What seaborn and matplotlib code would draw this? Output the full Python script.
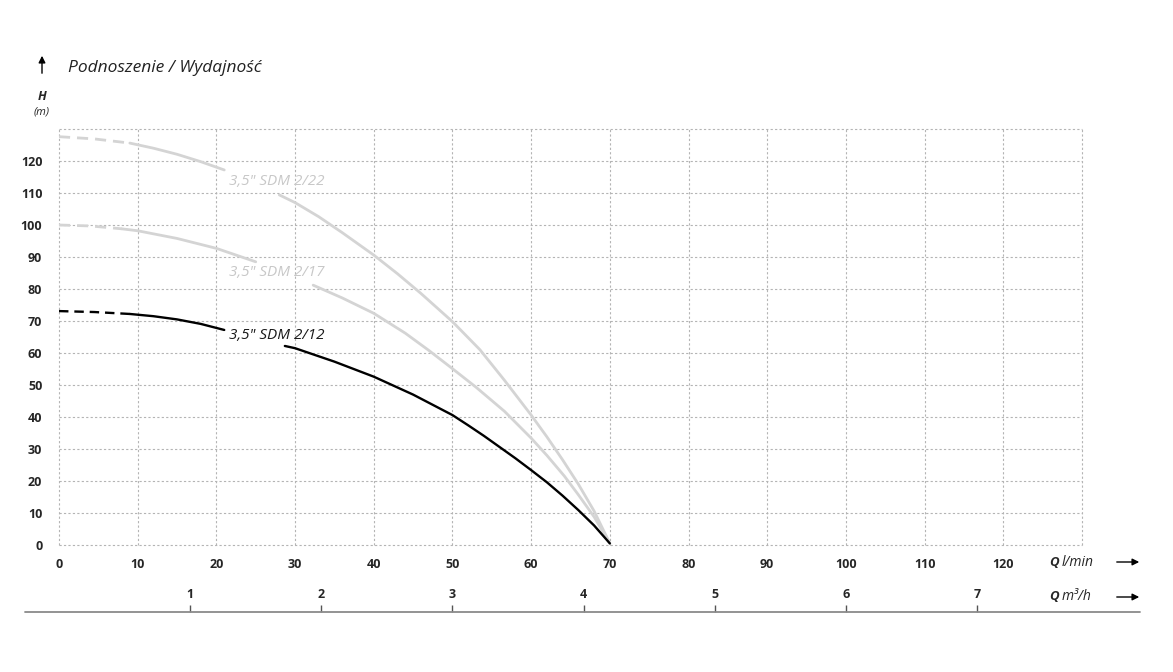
import numpy as np
import pandas as pd
import matplotlib
matplotlib.use('Agg')
import matplotlib.pyplot as plt
import seaborn as sns
from matplotlib.lines import Line2D

# flow Q (l/min) vs head H (m)
# each curve: dashed start, solid part, gap for the label, solid part
sdm22_dash_q = [0, 4.5, 9]
sdm22_dash_h = [127.6, 126.9, 125.6]
sdm22_a_q = [9, 12, 15, 18, 21]
sdm22_a_h = [125.6, 124.0, 122.1, 119.8, 117.2]
sdm22_b_q = [28, 30, 33, 36, 40, 43, 46, 50, 53.5, 56.6, 60, 62, 64, 66, 68, 70]
sdm22_b_h = [109.4, 107.0, 102.6, 97.6, 90.6, 84.8, 78.6, 69.8, 61.0, 51.5, 40.6, 33.8, 26.6, 19.0, 10.6, 0.5]

sdm17_dash_q = [0, 4, 8]
sdm17_dash_h = [100.0, 99.7, 98.8]
sdm17_a_q = [8, 10, 15, 20, 25]
sdm17_a_h = [98.8, 98.2, 95.8, 92.7, 88.5]
sdm17_b_q = [32.3, 36, 40, 44, 47, 50, 53, 56.6, 60, 62, 64.2, 66, 68, 70]
sdm17_b_h = [81.2, 77.2, 72.4, 66.2, 60.8, 55.1, 49.3, 41.8, 33.4, 28.0, 21.6, 15.7, 8.8, 0.5]

sdm12_dash_q = [0, 4.5, 9]
sdm12_dash_h = [73.1, 72.8, 72.2]
sdm12_a_q = [9, 12, 15, 18, 21]
sdm12_a_h = [72.2, 71.5, 70.5, 69.1, 67.2]
sdm12_b_q = [28.7, 30, 35, 40, 45, 50, 52, 54, 56, 58, 60, 62, 64, 66, 68, 70]
sdm12_b_h = [62.2, 61.5, 57.3, 52.6, 47.0, 40.6, 37.4, 34.1, 30.6, 27.1, 23.4, 19.6, 15.4, 10.9, 6.1, 0.5]

labels = ['3,5" SDM 2/22', '3,5" SDM 2/17', '3,5" SDM 2/12']
label_q = [21.6, 21.6, 21.6]
label_h = [113.7, 85.3, 65.6]

q_ticks = list(range(0, 131, 10))
h_ticks = list(range(0, 131, 10))
m3h_ticks = [1, 2, 3, 4, 5, 6, 7]
LMIN_PER_M3H = 1000 / 60

W, H = 1173, 672
sns.set_style('white')
plt.rcParams['font.family'] = ['Open Sans', 'DejaVu Sans']

fig = plt.figure(figsize=(W / 100, H / 100), dpi=100)
ax = fig.add_axes([59 / W, 1 - 545 / H, (1082 - 59) / W, (545 - 129) / H])

gray = '#d4d4d4'
curves = [
    (sdm22_dash_q, sdm22_dash_h, sdm22_a_q, sdm22_a_h, sdm22_b_q, sdm22_b_h, gray, 2.0),
    (sdm17_dash_q, sdm17_dash_h, sdm17_a_q, sdm17_a_h, sdm17_b_q, sdm17_b_h, gray, 2.0),
    (sdm12_dash_q, sdm12_dash_h, sdm12_a_q, sdm12_a_h, sdm12_b_q, sdm12_b_h, 'black', 1.7),
]
for dq, dh, aq, ah, bq, bh, col, lw in curves:
    sns.lineplot(x=dq, y=dh, ax=ax, color=col, lw=lw, linestyle=(0, (4, 2.5)), sort=False)
    sns.lineplot(x=aq, y=ah, ax=ax, color=col, lw=lw, sort=False)
    sns.lineplot(x=bq, y=bh, ax=ax, color=col, lw=lw, sort=False)

label_colors = ['#c8c8c8', '#c8c8c8', '#1a1a1a']
for txt, lq, lh, c in zip(labels, label_q, label_h, label_colors):
    ax.text(lq, lh, txt, color=c, fontsize=11, style='italic', va='center', ha='left')

ax.set_xlim(0, 130)
ax.set_ylim(0, 130)
ax.set_xticks(q_ticks)
ax.set_yticks(h_ticks)
ax.set_xticklabels([str(v) if v < 130 else '' for v in q_ticks])
ax.set_yticklabels([str(v) if v < 130 else '' for v in h_ticks])
ax.grid(True, color='#b4b4b4', lw=0.8, linestyle=(0, (2, 2)))
ax.set_axisbelow(True)
for gl in ax.get_xgridlines() + ax.get_ygridlines():
    gl.set_clip_on(False)
for s in ax.spines.values():
    s.set_visible(False)
ax.tick_params(which='both', length=0)
ax.tick_params(axis='y', pad=12, labelsize=9)
ax.tick_params(axis='x', pad=9, labelsize=9)
for t in ax.get_xticklabels() + ax.get_yticklabels():
    t.set_fontweight('bold')
ax.set_xlabel('')
ax.set_ylabel('')

# second flow scale in m3/h
ax2 = fig.add_axes([59 / W, 1 - 612 / H, (1082 - 59) / W, 7 / H])
ax2.set_xlim(0, 130 / LMIN_PER_M3H)
ax2.set_ylim(0, 1)
ax2.set_facecolor('none')
for s in ax2.spines.values():
    s.set_visible(False)
ax2.set_yticks([])
ax2.set_xticks(m3h_ticks)
ax2.tick_params(axis='x', bottom=True, top=False, labelbottom=False, labeltop=True,
                direction='in', length=5, width=1, color='#555555', pad=3, labelsize=9)
for t in ax2.get_xticklabels():
    t.set_fontweight('bold')
fig.add_artist(Line2D([25 / W, 1140 / W], [1 - 612 / H] * 2, color='#8a8a8a', lw=1.3))

# titles / axis names
fig.text(68 / W, 1 - 68 / H, 'Podnoszenie / Wydajność', fontsize=12.5, style='italic',
         va='center', ha='left', color='#222222')
fig.text(42 / W, 1 - 97 / H, 'H', fontsize=9, style='italic', fontweight='bold',
         va='center', ha='center')
fig.text(42 / W, 1 - 112 / H, '(m)', fontsize=8, style='italic', va='center', ha='center')

fig.text(1049 / W, 1 - 562 / H, 'Q', fontsize=9.5, style='italic', fontweight='bold', va='center')
fig.text(1062 / W, 1 - 562 / H, 'l/min', fontsize=10, style='italic', va='center')
fig.text(1049 / W, 1 - 597 / H, 'Q', fontsize=9.5, style='italic', fontweight='bold', va='center')
fig.text(1062 / W, 1 - 597 / H, 'm³/h', fontsize=10, style='italic', va='center')

arrow = dict(arrowstyle='-|>', color='black', lw=1, mutation_scale=10)
ax.annotate('', xy=(42 / W, 1 - 53 / H), xytext=(42 / W, 1 - 76 / H),
            xycoords='figure fraction', arrowprops=arrow)
for yy in (562, 597):
    ax.annotate('', xy=(1142 / W, 1 - yy / H), xytext=(1114 / W, 1 - yy / H),
                xycoords='figure fraction', arrowprops=arrow)

fig.savefig('out.png', dpi=100)
